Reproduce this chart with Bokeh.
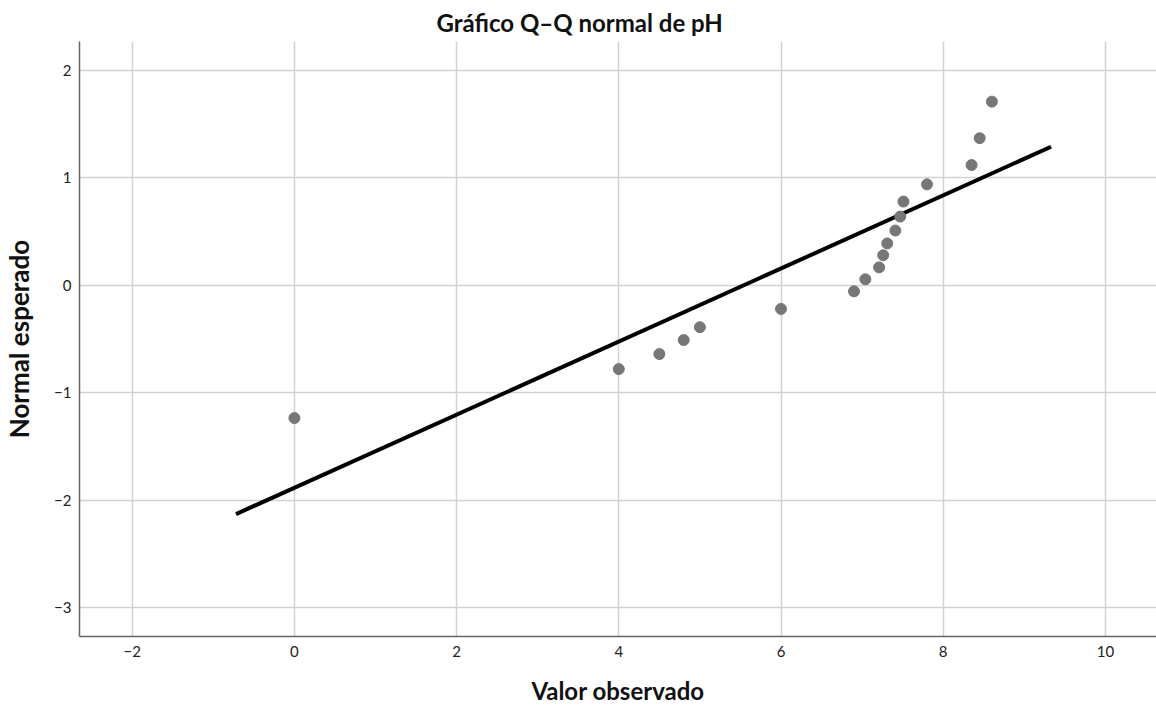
from bokeh.plotting import figure
from bokeh.models import ColumnDataSource, FixedTicker, Range1d
from bokeh.embed import file_html
from bokeh.resources import INLINE

# Observed pH values and expected normal quantiles
observed = [0.0, 4.0, 4.5, 4.8, 5.0, 6.0, 6.9, 7.04, 7.21, 7.26, 7.31, 7.41, 7.47, 7.51, 7.8, 8.35, 8.45, 8.6]
expected = [-1.236, -0.78, -0.64, -0.51, -0.39, -0.22, -0.056, 0.056, 0.167, 0.28, 0.39, 0.51, 0.64, 0.78, 0.94, 1.12, 1.37, 1.71]

# Reference line endpoints
line_x = [-0.72, 9.33]
line_y = [-2.13, 1.29]

x_ticks = [-2, 0, 2, 4, 6, 8, 10]
y_ticks = [-3, -2, -1, 0, 1, 2]

p = figure(width=1156, height=708, output_backend="svg", toolbar_location=None,
           x_range=Range1d(-2.65, 10.63), y_range=Range1d(-3.27, 2.27),
           title="Gráfico Q–Q normal de pH",
           min_border_left=75, min_border_right=0, min_border_top=39, min_border_bottom=72)

p.title.align = "left"
p.title.offset = 357
p.title.text_font = "Lato"
p.title.text_font_size = "24px"
p.title.text_font_style = "bold"
p.title.text_color = "#111111"
p.title.standoff = 10

p.outline_line_color = None
p.background_fill_color = "white"
p.border_fill_color = "white"

for ax in (p.xaxis[0], p.yaxis[0]):
    ax.axis_line_color = "#666666"
    ax.axis_line_width = 1.5
    ax.major_tick_line_color = None
    ax.minor_tick_line_color = None
    ax.major_tick_out = 0
    ax.major_tick_in = 0
    ax.major_label_text_font = "Lato"
    ax.major_label_text_font_size = "15px"
    ax.major_label_text_color = "#222222"
    ax.axis_label_text_font = "Lato"
    ax.axis_label_text_font_style = "bold"
    ax.axis_label_text_color = "#111111"

p.xaxis.axis_label_text_font_size = "24px"
p.yaxis.axis_label_text_font_size = "26px"
p.xaxis.ticker = FixedTicker(ticks=x_ticks)
p.yaxis.ticker = FixedTicker(ticks=y_ticks)
p.xaxis.axis_label = "Valor observado"
p.yaxis.axis_label = "Normal esperado"
p.xaxis.major_label_standoff = 9
p.yaxis.major_label_standoff = 8
p.xaxis.axis_label_standoff = 16
p.yaxis.axis_label_standoff = 16
p.xaxis.major_label_overrides = {t: str(t).replace("-", "−") for t in x_ticks}
p.yaxis.major_label_overrides = {t: str(t).replace("-", "−") for t in y_ticks}

p.xgrid.ticker = FixedTicker(ticks=x_ticks)
p.ygrid.ticker = FixedTicker(ticks=y_ticks)
p.grid.grid_line_color = "#d2d2d2"
p.grid.grid_line_width = 1.5

p.line(line_x, line_y, line_color="black", line_width=4)

src = ColumnDataSource(dict(x=observed, y=expected))
p.scatter("x", "y", source=src, size=11, fill_color="#777777", line_color="#777777")

open("out.html", "w").write(file_html(p, INLINE))
